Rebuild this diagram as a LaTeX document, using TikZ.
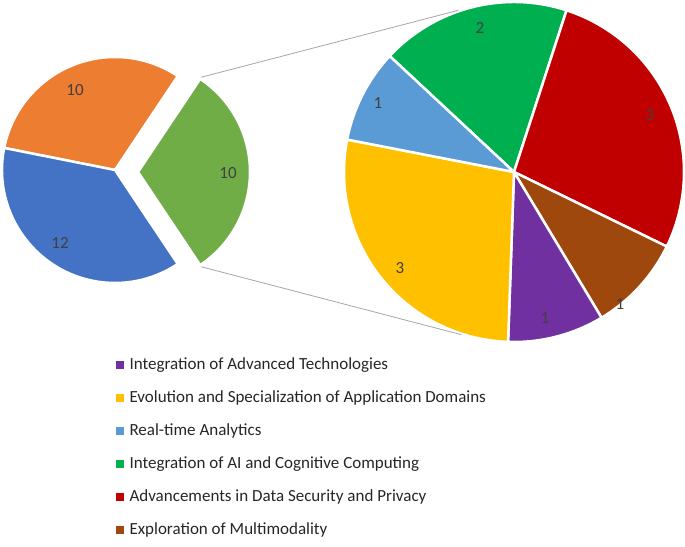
\documentclass[tikz,border=0pt]{standalone}
\usepackage{fontspec}
\setmainfont{Carlito}
\usetikzlibrary{calc}
\usetikzlibrary{positioning}

\definecolor{lorange}{HTML}{ED7D31}
\definecolor{lblue}{HTML}{4472C4}
\definecolor{lgreen}{HTML}{70AD47}
\definecolor{rpurple}{HTML}{7030A0}
\definecolor{ryellow}{HTML}{FFC000}
\definecolor{rsky}{HTML}{5B9BD5}
\definecolor{rgreen}{HTML}{00B050}
\definecolor{rred}{HTML}{C00000}
\definecolor{rbrown}{HTML}{9E480E}

% slice: colour, centre, radius, start angle, end angle
\newcommand{\pieslice}[5]{\fill[#1,draw=white,line width=2.5pt,line join=round] #2 -- ++(#4:#3) arc[start angle=#4,end angle=#5,radius=#3] -- cycle;}

\begin{document}
\begin{tikzpicture}[x=1pt,y=1pt,
    every node/.style={font=\fontsize{17}{20}\selectfont},
    numlabel/.style={text=black!75},
    leglabel/.style={anchor=west,text=black!85},
    legbox/.style={minimum size=8pt,inner sep=0pt}]
\useasboundingbox (0,0) rectangle (685,546);
% left pie
\pieslice{lorange}{(115,376)}{113}{56.25}{168.75}
\pieslice{lblue}{(115,376)}{113}{168.75}{303.75}
\pieslice{lgreen}{(138,374)}{112}{-56.25}{56.25}
% right pie
\pieslice{rgreen}{(514,374)}{170}{72}{137}
\pieslice{rred}{(514,374)}{170}{-26}{72}
\pieslice{rbrown}{(514,374)}{170}{-59}{-26}
\pieslice{rpurple}{(514,374)}{170}{-92}{-59}
\pieslice{ryellow}{(514,374)}{170}{169}{268}
\pieslice{rsky}{(514,374)}{170}{137}{169}
% connector lines
\coordinate (gtop) at ($(138,374)+(56.25:114)$);
\coordinate (gbot) at ($(138,374)+(-56.25:114)$);
\coordinate (rtop) at ($(514,374)+(109:171)$);
\coordinate (rbot) at ($(514,374)+(-108:171)$);
\draw[gray!70,line width=0.8pt] (gtop) -- (rtop);
\draw[gray!70,line width=0.8pt] (gbot) -- (rbot);
% value labels
\node[numlabel] (lo) at (75,456) {10};
\node[numlabel] (lb) at (60,303) {12};
\node[numlabel] (lg) at (228,373) {10};
\node[numlabel] (rg) at (480,518) {2};
\node[numlabel] (rr) at (650,431) {3};
\node[numlabel] (rb) at (620,242) {1};
\node[numlabel] (rp) at (545,228) {1};
\node[numlabel] (ry) at (400,278) {3};
\node[numlabel] (rs) at (378,443) {1};
% legend
\foreach \c/\t [count=\i] in {rpurple/Integration of Advanced Technologies,
    ryellow/Evolution and Specialization of Application Domains,
    rsky/Real-time Analytics,
    rgreen/Integration of AI and Cognitive Computing,
    rred/Advancements in Data Security and Privacy,
    rbrown/Exploration of Multimodality} {
  \node[legbox,fill=\c] (box\i) at (120,214-33*\i) {};
  \node[leglabel] (leg\i) at (126,214-33*\i) {\t};
}
\end{tikzpicture}
\end{document}
